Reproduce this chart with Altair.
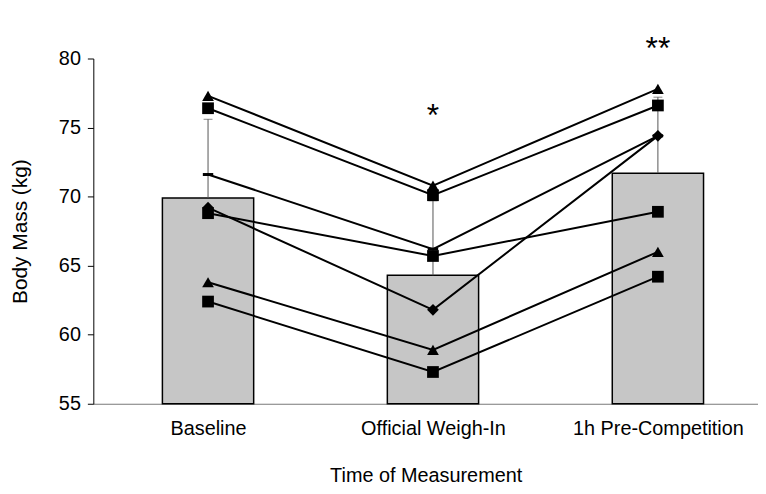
import altair as alt
import pandas as pd

times = ["Baseline", "Official Weigh-In", "1h Pre-Competition"]
mean_mass = [69.9, 64.3, 71.7]
mean_plus_sd = [75.6, 69.7, 77.2]
stars = ["", "*", "**"]
star_y = [None, 75.8, 80.7]

subjects = ["A", "B", "C", "D", "E", "F", "G"]
subject_shapes = ["triangle-up", "square", "stroke", "diamond", "square", "triangle-up", "square"]
subj_baseline = [77.3, 76.4, 71.6, 69.2, 68.8, 63.8, 62.4]
subj_weighin = [70.8, 70.1, 66.2, 61.8, 65.7, 58.9, 57.3]
subj_precomp = [77.8, 76.6, 74.4, 74.4, 68.9, 66.0, 64.2]

bars = pd.DataFrame({"time": times, "pos": [1, 2, 3], "mean": mean_mass,
                     "upper": mean_plus_sd, "star": stars, "star_y": star_y})

rows = []
for i, s in enumerate(subjects):
    for j, vals in enumerate([subj_baseline, subj_weighin, subj_precomp]):
        rows.append({"subject": s, "shape": subject_shapes[i], "pos": j + 1,
                     "time": times[j], "mass": vals[i]})
ind = pd.DataFrame(rows)

label_expr = "[" + ",".join("'" + t + "'" for t in times) + "][datum.value - 1]"

xscale = alt.Scale(domain=[0.49, 3.445], nice=False, zero=False, padding=0)
yscale = alt.Scale(domain=[55, 80], nice=False, zero=False)

x_enc = alt.X("pos:Q", scale=xscale,
              axis=alt.Axis(values=[1, 2, 3], labelExpr=label_expr, ticks=False,
                            title="Time of Measurement", grid=False,
                            labelFontSize=20, titleFontSize=20,
                            domainColor="#777777", labelPadding=15, titlePadding=27))
y_axis = alt.Axis(values=[55, 60, 65, 70, 75, 80], title="Body Mass (kg)", grid=False,
                  tickSize=6, labelPadding=7, titlePadding=28,
                  labelFontSize=20, titleFontSize=21,
                  domainColor="black", tickColor="black")

bar = alt.Chart(bars).mark_bar(size=92, color="#c6c6c6", stroke="black", strokeWidth=1.5).encode(
    x=x_enc,
    y=alt.Y("mean:Q", scale=yscale, axis=y_axis),
    y2=alt.datum(55),
)

err = alt.Chart(bars).mark_rule(color="#555555", strokeWidth=1).encode(
    x="pos:Q", y="mean:Q", y2="upper:Q")
cap = alt.Chart(bars).mark_tick(color="#555555", thickness=1, size=9, orient="horizontal").encode(
    x="pos:Q", y="upper:Q")

lines = alt.Chart(ind).mark_line(color="black", strokeWidth=2).encode(
    x="pos:Q", y="mass:Q", detail="subject:N")

pts = alt.Chart(ind).transform_filter("datum.shape != 'stroke'").mark_point(
    filled=True, color="black", size=140, opacity=1).encode(
    x="pos:Q", y="mass:Q",
    shape=alt.Shape("shape:N", scale=None, legend=None))

strokes = alt.Chart(ind).transform_filter("datum.shape == 'stroke'").mark_point(
    shape="stroke", color="black", strokeWidth=3, size=110, opacity=1).encode(
    x="pos:Q", y="mass:Q")

txt = alt.Chart(bars).transform_filter("datum.star != ''").mark_text(
    fontSize=32, font="Liberation Sans", baseline="middle", align="center").encode(
    x="pos:Q", y="star_y:Q", text="star:N")

chart = alt.layer(bar, err, cap, lines, pts, strokes, txt).properties(
    width=670, height=348,
    autosize=alt.AutoSizeParams(type="none"),
    padding={"left": 86, "top": 49, "right": 0, "bottom": 83},
).configure_view(stroke=None).configure_axis(
    labelFont="Liberation Sans", titleFont="Liberation Sans",
    titleFontWeight="normal",
    labelColor="black", titleColor="black",
)

chart.save("out.html", embed_options={"renderer": "svg", "actions": False})
